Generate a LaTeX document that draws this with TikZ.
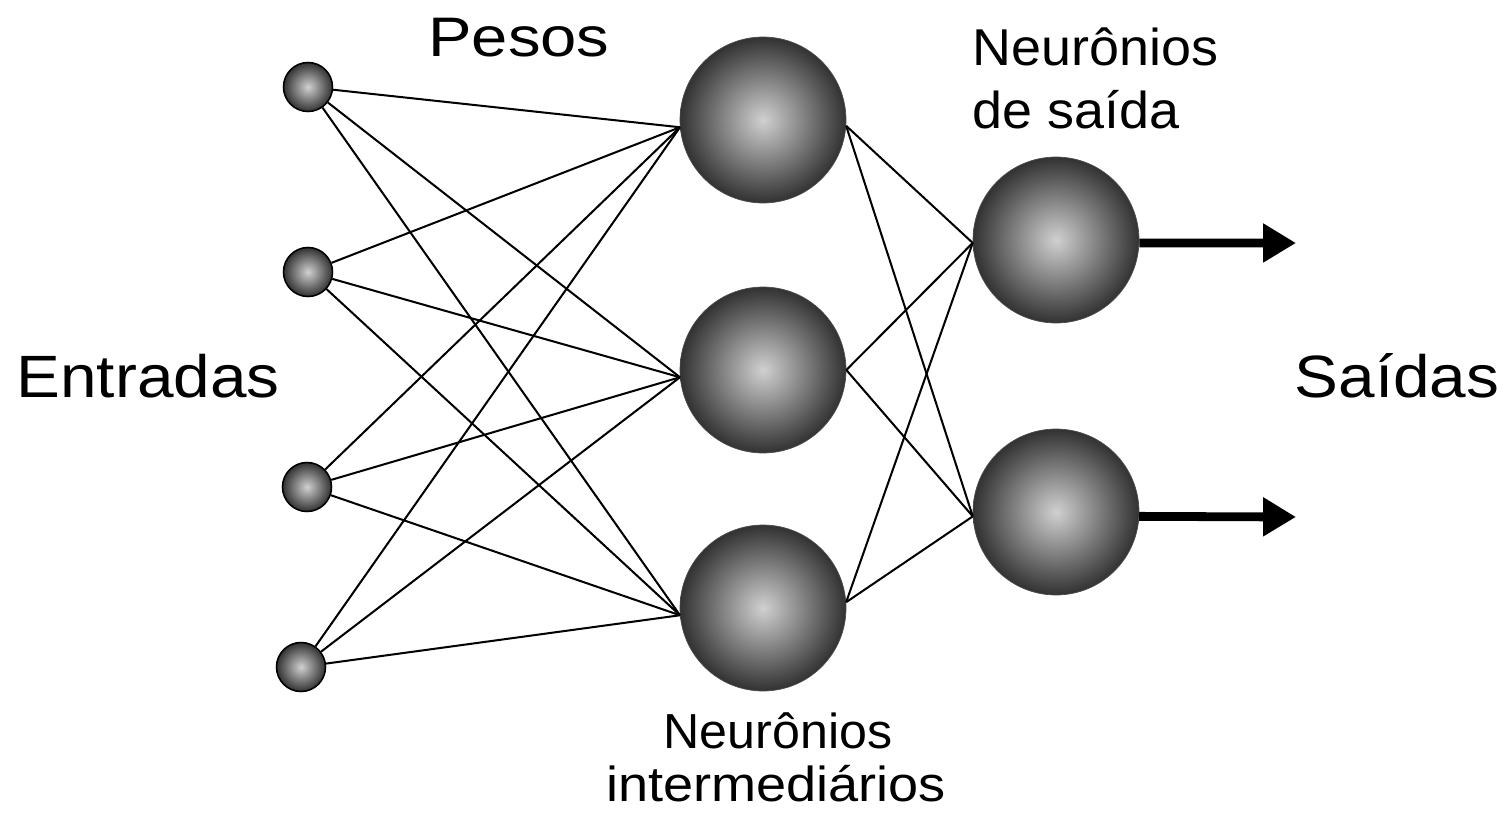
\documentclass[tikz,border=0pt]{standalone}
\usepackage{fontspec}
\setmainfont{Liberation Sans}
\usetikzlibrary{arrows.meta}
\definecolor{ballin}{HTML}{D0D0D0}
\definecolor{ballout}{HTML}{323232}
\pgfdeclareradialshading{ball}{\pgfpointorigin}{color(0bp)=(ballin); color(25bp)=(ballout); color(50bp)=(ballout)}
\begin{document}
\begin{tikzpicture}[x=0.02cm,y=-0.02cm,
  inp/.style={circle, shading=ball, draw=black, line width=0.9pt, minimum size=0.98cm, inner sep=0pt},
  neu/.style={circle, shading=ball, draw=black!70, line width=0.4pt, minimum size=3.32cm, inner sep=0pt},
  wire/.style={line width=1.15pt, black},
  outarrow/.style={line width=5pt, -{Triangle[length=18.7pt,width=21pt]}},
  lbl/.style={inner sep=0pt, anchor=base},
  lblw/.style={inner sep=0pt, anchor=base west}]
\fill[white] (0,0) rectangle (1511,825);
\useasboundingbox (0,0) rectangle (1511,825);

% input nodes
\node[inp] (in1) at (308,87) {};
\node[inp] (in2) at (308,272) {};
\node[inp] (in3) at (307,487) {};
\node[inp] (in4) at (301,667) {};
% hidden nodes
\node[neu] (h1) at (763,120) {};
\node[neu] (h2) at (763,370) {};
\node[neu] (h3) at (763,608) {};
% output nodes
\node[neu] (o1) at (1056,240) {};
\node[neu] (o2) at (1056,512) {};

% weights
\foreach \i in {in1,in2,in3,in4}
  \foreach \h in {h1,h2,h3}
    \draw[wire] (\i) -- (\h.185);
\foreach \h/\a in {h1/-4,h2/0,h3/4}
  \foreach \o/\b in {o1/182,o2/183}
    \draw[wire] (\h.\a) -- (\o.\b);

% output arrows
\coordinate (a1) at (1296,243);
\coordinate (a2) at (1296,517);
\draw[outarrow] (o1.-2) -- (a1);
\draw[outarrow] (o2.-3.5) -- (a2);

% labels
\node[lbl, font=\fontsize{31.7}{38}\selectfont] (pesos) at (519,56) {\scalebox{1.17}[1]{Pesos}};
\node[lbl, font=\fontsize{34}{40}\selectfont] (entr) at (148,397) {\scalebox{1.1}[1]{Entradas}};
\node[lbl, font=\fontsize{34}{40}\selectfont] (said) at (1397,397) {\scalebox{1.1}[1]{Saídas}};
\node[lblw, font=\fontsize{29.5}{36}\selectfont] (ns1) at (972,65) {\scalebox{1.04}[1]{Neurônios}};
\node[lblw, font=\fontsize{29.5}{36}\selectfont] (ns2) at (972,128) {\scalebox{1.04}[1]{de saída}};
\node[lbl, font=\fontsize{28}{34}\selectfont] (ni1) at (778,748) {\scalebox{1.02}[1]{Neurônios}};
\node[lbl, font=\fontsize{28}{34}\selectfont] (ni2) at (776,801) {\scalebox{1.1}[1]{intermediários}};
\end{tikzpicture}
\end{document}
